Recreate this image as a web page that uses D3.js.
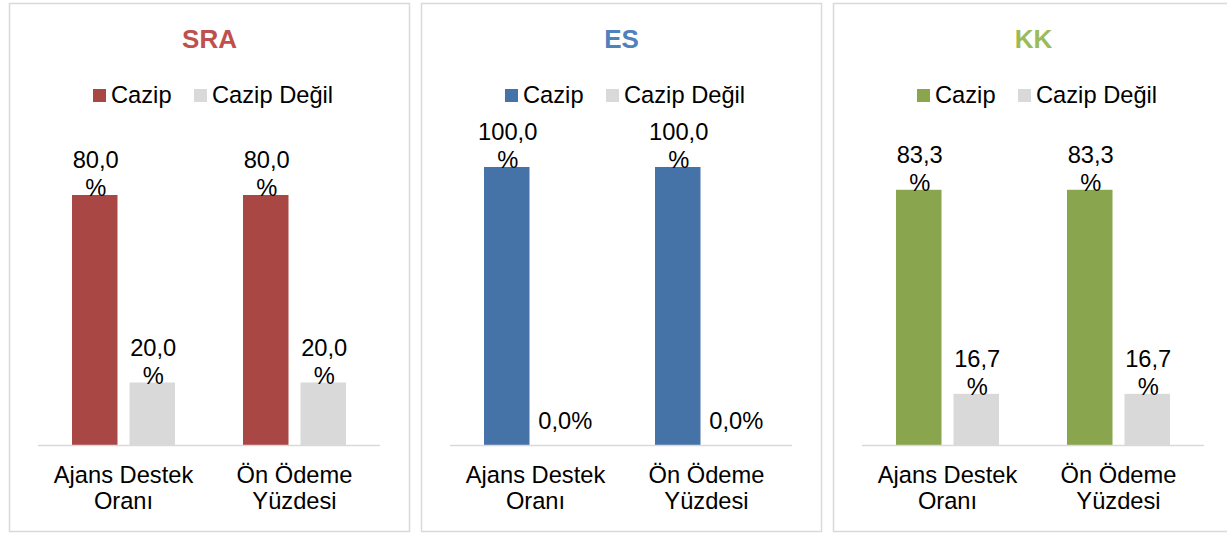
<!DOCTYPE html>
<html>
<head>
<meta charset="utf-8">
<script src="https://cdn.jsdelivr.net/npm/d3@7"></script>
<style>
html,body{margin:0;padding:0;background:#fff;}
svg{display:block;font-family:Arial,"Liberation Sans",sans-serif;}
</style>
</head>
<body>
<svg id="chart" width="1227" height="533"></svg>
<script>
// ---- data ----
const panels = ["SRA", "ES", "KK"];
const categories = [["Ajans Destek", "Oranı"], ["Ön Ödeme", "Yüzdesi"]];
const seriesNames = ["Cazip", "Cazip Değil"];
const sraCazip = [80.0, 80.0];
const sraDegil = [20.0, 20.0];
const esCazip = [100.0, 100.0];
const esDegil = [0.0, 0.0];
const kkCazip = [83.3, 83.3];
const kkDegil = [16.7, 16.7];
const panelValues = [[sraCazip, sraDegil], [esCazip, esDegil], [kkCazip, kkDegil]];

// ---- styles / layout ----
const titleColors = ["#C0504D", "#4F81BD", "#9BBB59"];
const barColors = ["#A94744", "#4572A7", "#89A54E"];
const greyColor = "#D9D9D9";
const yMax = [100, 112.4, 102]; // per-panel axis max (Excel auto scale)
const panelLeft = [9, 421, 833];
const panelW = 400, panelTop = 3, panelBottom = 531;
const plotL = 29, plotR = 371, plotTop = 132.5, baseY = 445;
const fs = 23.7;

const svg = d3.select("#chart");
const fmt = v => d3.format(".1f")(v).replace(".", ",") + "%";

panels.forEach((name, pi) => {
  const g = svg.append("g").attr("transform", `translate(${panelLeft[pi]},0)`);
  g.append("rect")
    .attr("x", 0.5).attr("y", panelTop + 0.5)
    .attr("width", panelW).attr("height", panelBottom - panelTop)
    .attr("fill", "#fff").attr("stroke", "#D9D9D9").attr("stroke-width", 1.5);

  // title
  g.append("text").attr("x", panelW / 2 + 0.5).attr("y", 48)
    .attr("text-anchor", "middle").attr("font-size", 26).attr("font-weight", "bold")
    .attr("fill", titleColors[pi]).text(name);

  // legend
  const legColors = [barColors[pi], greyColor];
  const legX = [84, 185];
  seriesNames.forEach((s, si) => {
    g.append("rect").attr("x", legX[si]).attr("y", 89).attr("width", 13).attr("height", 13)
      .attr("fill", legColors[si]);
    g.append("text").attr("x", legX[si] + 18).attr("y", 103)
      .attr("font-size", fs).attr("fill", "#000").text(s);
  });

  const x0 = d3.scaleBand().domain(d3.range(categories.length)).range([plotL, plotR]).padding(0);
  const x1 = d3.scaleBand().domain(d3.range(seriesNames.length)).range([-51.5, 51.5]).paddingInner(0.209);
  const y = d3.scaleLinear().domain([0, yMax[pi]]).range([baseY, plotTop]);

  const vals = panelValues[pi];
  categories.forEach((cat, ci) => {
    const cx = x0(ci) + x0.bandwidth() / 2;
    seriesNames.forEach((s, si) => {
      const v = vals[si][ci];
      const bx = cx + x1(si);
      g.append("rect").attr("x", bx).attr("y", y(v))
        .attr("width", x1.bandwidth()).attr("height", baseY - y(v))
        .attr("fill", si === 0 ? barColors[pi] : greyColor);
      const label = fmt(v);
      const lx = bx + x1.bandwidth() / 2 + 1;
      const t = g.append("text").attr("text-anchor", "middle")
        .attr("font-size", fs).attr("fill", "#000");
      if (label.length > 4) {
        const num = label.slice(0, -1);
        t.append("tspan").attr("x", lx).attr("y", y(v) - 27).text(num);
        t.append("tspan").attr("x", lx).attr("y", y(v) + 1).text("%");
      } else {
        t.attr("x", lx).attr("y", y(v) - 16).text(label);
      }
    });
    // category label
    const ct = g.append("text").attr("text-anchor", "middle").attr("font-size", fs).attr("fill", "#000");
    cat.forEach((line, li) => {
      ct.append("tspan").attr("x", cx).attr("y", 483 + li * 26).text(line);
    });
  });

  // axis line
  g.append("line").attr("x1", plotL).attr("x2", plotR).attr("y1", baseY + 0.5).attr("y2", baseY + 0.5)
    .attr("stroke", "#D9D9D9").attr("stroke-width", 1.5);
});
</script>
</body>
</html>
